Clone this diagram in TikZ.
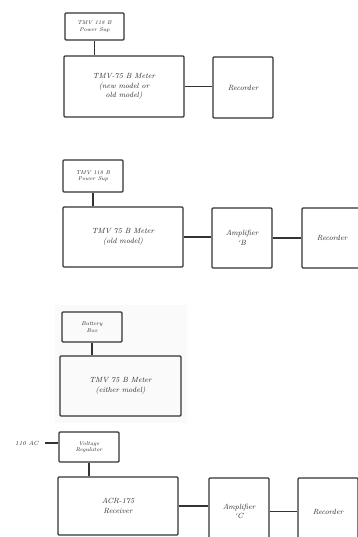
\documentclass[tikz,border=0pt]{standalone}
\begin{document}
\begin{tikzpicture}[x=1pt,y=-1pt,
  box/.style={draw=black!80, line width=1.2pt, rounded corners=1pt, inner sep=1pt, align=center,
    font=\fontsize{7.5}{9.5}\selectfont\itshape, text=black!85},
  sbox/.style={box, font=\fontsize{5.5}{6.5}\selectfont\itshape},
  wire/.style={draw=black!80, line width=1.2pt}]
\useasboundingbox (0,0) rectangle (358,537);
\clip (0,0) rectangle (358,537);
\fill[black!2] (55,305) rectangle (187,423);
% section 1
\node[sbox, minimum width=59pt, minimum height=27pt] (ps1) at (94.5,26.5) {TMV 118 B\\Power Sup};
\node[box, minimum width=120pt, minimum height=61pt] (m1) at (124,86.5) {TMV-75 B Meter\\(new model or\\old model)};
\node[box, minimum width=60pt, minimum height=61pt] (r1) at (243,87.5) {Recorder};
\draw[wire] (ps1.south) -- (ps1.south |- m1.north);
\draw[wire] (m1.east) -- (m1.east -| r1.west);
% section 2
\node[sbox, minimum width=60pt, minimum height=32pt] (ps2) at (93,176) {TMV 118 B\\Power Sup};
\node[box, minimum width=120pt, minimum height=60pt] (m2) at (123,237) {TMV 75 B Meter\\(old model)};
\node[box, minimum width=60pt, minimum height=60pt] (a2) at (242,238) {Amplifier\\`B};
\node[box, minimum width=60pt, minimum height=60pt] (r2) at (332,238) {Recorder};
\draw[wire] (ps2.south) -- (ps2.south |- m2.north);
\draw[wire] (m2.east) -- (m2.east -| a2.west);
\draw[wire] (a2.east) -- (a2.east -| r2.west);
% section 3
\node[sbox, minimum width=60pt, minimum height=30pt] (bb) at (92,327) {Battery\\Box};
\node[box, minimum width=121pt, minimum height=60pt] (m3) at (120.5,386) {TMV 75 B Meter\\(either model)};
\draw[wire] (bb.south) -- (bb.south |- m3.north);
% section 4
\node[sbox, minimum width=60pt, minimum height=30pt] (vr) at (89,447) {Voltage\\Regulator};
\node[font=\fontsize{6}{7}\selectfont\itshape, text=black!85, anchor=east] (ac) at (42,443) {110 AC};
\node[box, minimum width=120pt, minimum height=58pt] (rc) at (118,506) {ACR-175\\Receiver};
\node[box, minimum width=60pt, minimum height=67pt] (amc) at (239,511.5) {Amplifier\\`C};
\node[box, minimum width=60pt, minimum height=67pt] (r4) at (328,511.5) {Recorder};
\coordinate (acend) at (45,443);
\draw[wire] (acend) -- (acend -| vr.west);
\draw[wire] (vr.south) -- (vr.south |- rc.north);
\draw[wire] (rc.east) -- (rc.east -| amc.west);
\draw[wire] (amc.east) -- (amc.east -| r4.west);
\end{tikzpicture}
\end{document}
